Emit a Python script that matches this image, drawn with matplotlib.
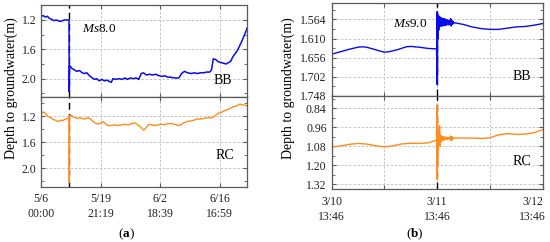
import matplotlib
matplotlib.use("Agg")
import matplotlib.pyplot as plt
from matplotlib.ticker import FixedLocator
from matplotlib.transforms import ScaledTranslation

plt.rcParams['font.family'] = ['Liberation Serif', 'DejaVu Serif']
plt.rcParams['mathtext.fontset'] = 'custom'
plt.rcParams['mathtext.rm'] = 'Liberation Serif'
plt.rcParams['mathtext.it'] = 'Liberation Serif:italic'
plt.rcParams['mathtext.bf'] = 'Liberation Serif:bold'

# --- panel (a): Ms8.0, days since 5/6 00:00 ---
a_quake = 6.6
a_bb_day = [0.0, 0.5, 1.0, 1.5, 2.0, 2.5, 3.0, 3.5, 4.0, 4.5, 5.0, 5.5, 6.0, 6.55,
            6.6, 6.65, 7.2, 7.8, 8.3, 9.0, 9.6, 10.2, 10.7, 11.3, 12.0, 12.5, 13.0,
            13.6, 14.2, 14.8, 15.4, 16.0, 16.4, 16.8, 17.5, 18.2, 19.0, 19.6, 20.2,
            20.8, 21.5, 22.2, 22.8, 23.4, 23.9, 24.6, 25.3, 26.0, 26.8, 27.5, 28.2,
            28.9, 29.6, 30.3, 31.0, 31.6, 32.2, 32.8, 33.5, 34.2, 35.0, 35.8, 36.5,
            37.2, 38.0, 38.7, 39.4, 39.8, 40.2, 40.8, 41.4, 42.0, 42.6, 43.2, 43.8,
            44.3, 44.8, 45.3, 45.8, 46.3, 46.8, 47.3, 47.8, 48.1]
a_bb_val = [1.15, 1.14, 1.16, 1.15, 1.18, 1.19, 1.21, 1.20, 1.21, 1.22, 1.21, 1.20, 1.20, 1.20,
            2.18, 1.82, 1.86, 1.88, 1.90, 1.89, 1.92, 1.93, 1.92, 1.96, 1.99, 2.01, 2.00,
            2.03, 2.01, 2.03, 2.02, 2.04, 2.05, 2.00, 2.01, 2.00, 2.01, 1.99, 2.01,
            1.99, 2.00, 1.99, 2.01, 1.93, 1.92, 1.95, 1.94, 1.95, 1.94, 1.96, 1.97,
            1.96, 1.98, 1.98, 1.99, 1.99, 1.99, 1.93, 1.90, 1.92, 1.93, 1.92, 1.93,
            1.92, 1.92, 1.91, 1.91, 1.88, 1.73, 1.74, 1.77, 1.78, 1.79, 1.80, 1.78,
            1.76, 1.70, 1.66, 1.62, 1.56, 1.50, 1.43, 1.36, 1.31]
a_rc_day = [0.0, 0.5, 1.0, 1.5, 2.0, 2.5, 2.9, 3.5, 4.0, 4.6, 5.2, 5.7, 6.2, 6.55,
            6.6, 6.65, 7.0, 7.5, 8.0, 8.5, 9.0, 9.6, 10.2, 10.8, 11.4, 12.0, 12.6,
            13.3, 13.9, 14.5, 15.0, 15.6, 16.4, 17.2, 18.0, 18.8, 19.6, 20.4, 21.2,
            22.0, 22.6, 23.2, 24.0, 24.6, 25.2, 25.9, 26.6, 27.3, 28.0, 28.8, 29.6,
            30.4, 31.2, 32.0, 32.6, 33.3, 34.0, 34.8, 35.6, 36.4, 37.2, 38.0, 38.8,
            39.6, 40.2, 40.8, 41.4, 42.0, 42.6, 43.3, 44.0, 44.8, 45.6, 46.4, 47.0,
            47.8, 48.1]
a_rc_val = [1.16, 1.13, 1.15, 1.19, 1.21, 1.23, 1.25, 1.26, 1.28, 1.26, 1.26, 1.24, 1.23, 1.24,
            2.22, 1.19, 1.18, 1.21, 1.22, 1.23, 1.22, 1.23, 1.24, 1.22, 1.23, 1.27, 1.30,
            1.32, 1.30, 1.28, 1.31, 1.34, 1.34, 1.33, 1.34, 1.33, 1.32, 1.33, 1.31,
            1.30, 1.33, 1.36, 1.41, 1.37, 1.32, 1.33, 1.34, 1.33, 1.32, 1.33, 1.31,
            1.31, 1.32, 1.34, 1.33, 1.30, 1.28, 1.27, 1.26, 1.24, 1.24, 1.23, 1.22,
            1.22, 1.21, 1.18, 1.15, 1.14, 1.12, 1.10, 1.08, 1.05, 1.04, 1.01, 1.02,
            1.03, 1.04]
a_xticks = [0.0, 13.888, 27.777, 41.708]
a_xlabels = ['5/6\n00:00', '5/19\n21:19', '6/2\n18:39', '6/16\n16:59']
a_bb_yticks = [1.2, 1.6, 2.0]
a_rc_yticks = [1.2, 1.6, 2.0]

# --- panel (b): Ms9.0, hours since 3/10 13:46 ---
b_quake = 24.0
b_bb_hr = [0, 2, 4, 6, 7, 8, 10, 12, 13, 15, 17, 18, 20, 22, 23.9,
           24.0, 24.05, 24.1, 24.15, 24.2, 24.3, 24.4, 24.5, 24.6, 24.7, 24.8, 24.9,
           25.0, 25.1, 25.2, 25.3, 25.4, 25.5, 25.6, 25.7, 25.8, 25.9, 26.0, 26.1,
           26.2, 26.3, 26.4, 26.5, 26.6, 26.7, 26.8, 26.9, 27.0, 27.1, 27.2, 27.3,
           27.4, 27.5, 27.6, 27.7, 27.8, 28.0, 30, 32, 34, 36, 38, 40, 42, 44, 46, 48]
b_bb_val = [1.648, 1.642, 1.636, 1.631, 1.630, 1.631, 1.637, 1.643, 1.642, 1.637, 1.630, 1.629, 1.631, 1.634, 1.635,
            1.720, 1.545, 1.700, 1.550, 1.610, 1.560, 1.590, 1.556, 1.582, 1.558, 1.580, 1.560,
            1.579, 1.561, 1.580, 1.562, 1.578, 1.563, 1.579, 1.562, 1.577, 1.564, 1.578, 1.564,
            1.577, 1.565, 1.576, 1.566, 1.577, 1.566, 1.575, 1.567, 1.576, 1.562, 1.580, 1.565,
            1.576, 1.568, 1.575, 1.569, 1.573, 1.572, 1.576, 1.582, 1.586, 1.588, 1.588, 1.585, 1.582, 1.581, 1.578, 1.574]
b_rc_hr = [0, 2, 4, 6, 8, 10, 12, 14, 16, 18, 20, 22, 23.5, 23.9,
           24.0, 24.05, 24.1, 24.15, 24.2, 24.3, 24.4, 24.6, 24.7, 24.8, 24.9,
           25.0, 25.1, 25.2, 25.3, 25.4, 25.5, 25.6, 25.7, 25.8, 25.9, 26.0, 26.1,
           26.2, 26.3, 26.4, 26.5, 26.6, 26.7, 26.8, 26.9, 27.0, 27.1, 27.2, 27.3,
           27.4, 27.5, 27.6, 27.8, 28.0, 30, 32, 34, 36, 38, 40, 42, 44, 46, 48]
b_rc_val = [1.085, 1.078, 1.068, 1.062, 1.066, 1.076, 1.083, 1.077, 1.065, 1.061, 1.062, 1.058, 1.045, 1.040,
            0.820, 1.290, 0.900, 1.200, 0.980, 1.100, 1.020, 0.950, 1.080, 1.010, 1.050,
            1.015, 1.045, 1.018, 1.042, 1.020, 1.040, 1.021, 1.038, 1.022, 1.037, 1.023, 1.036,
            1.024, 1.035, 1.024, 1.034, 1.025, 1.033, 1.026, 1.032, 1.026, 1.015, 1.045, 1.018,
            1.040, 1.022, 1.032, 1.028, 1.027, 1.028, 1.028, 1.030, 1.026, 1.008, 1.000, 1.005, 1.003, 0.995, 0.975]
b_xticks = [0, 12, 24, 36, 48]
b_xlabels = ['3/10\n13:46', '', '3/11\n13:46', '', '3/12\n13:46']
b_bb_yticks = [1.564, 1.610, 1.656, 1.702, 1.748]
b_rc_yticks = [0.84, 0.96, 1.08, 1.20, 1.32]
b_rc_ylabels = ['0.84', '0.96', '1.08', '1.20', '1.32']

BLUE = '#0a0aee'
ORANGE = '#ff8c1a'
W, H = 550.0, 242.0


def px_axes(fig, left, top, right, bottom):
    return fig.add_axes([left / W, 1 - bottom / H, (right - left) / W, (bottom - top) / H])


def style(ax, yticks, ylabels, minor):
    for s in ax.spines.values():
        s.set_color('#5a5a5a')
        s.set_linewidth(0.9)
    ax.set_yticks(yticks)
    ax.set_yticklabels(ylabels)
    ax.yaxis.set_minor_locator(FixedLocator(minor))
    ax.tick_params(which='both', direction='in', top=True, right=True,
                   colors='#5a5a5a', labelcolor='#222222', labelsize=8.5, pad=3.5)
    ax.tick_params(which='major', length=3)
    ax.tick_params(which='minor', length=2)
    ax.grid(True, which='major', color='#bdbdbd', linestyle=(0, (3, 2)), linewidth=0.6)
    ax.set_axisbelow(True)


fig = plt.figure(figsize=(5.5, 2.42), dpi=100)

# (a)
ax1 = px_axes(fig, 41, 5.3, 247.3, 97)
ax2 = px_axes(fig, 41, 97, 247.3, 186.5)
ax1.plot(a_bb_day, a_bb_val, color=BLUE, lw=1.1)
ax2.plot(a_rc_day, a_rc_val, color=ORANGE, lw=1.0)
ax1.set_ylim(2.25, 1.0)
ax2.set_ylim(2.28, 0.9)
style(ax1, a_bb_yticks, [f'{v:.1f}' for v in a_bb_yticks], [1.0, 1.4, 1.8, 2.2])
style(ax2, a_rc_yticks, [f'{v:.1f}' for v in a_rc_yticks], [1.0, 1.4, 1.8, 2.2])
for ax in (ax1, ax2):
    ax.set_xlim(0, 48.15)
    ax.set_xticks(a_xticks)
    ax.axvline(a_quake, color='black', lw=1.0, linestyle=(0, (5, 3)), zorder=1)
ax1.set_xticklabels([])
ax2.set_xticklabels(a_xlabels, linespacing=1.3)
ax2.tick_params(axis='x', pad=5)
ax1.text(0.28, 0.74, r'$Ms$8.0', transform=ax1.transAxes, ha='center', va='center', fontsize=9.5)
ax1.text(0.883, 0.175, 'BB', transform=ax1.transAxes, ha='center', va='center', fontsize=10)
ax2.text(0.893, 0.344, 'RC', transform=ax2.transAxes, ha='center', va='center', fontsize=10)
fig.text(11 / W, 1 - 88 / H, 'Depth to groundwater(m)', rotation=90, ha='center', va='center', fontsize=10)
fig.text(126 / W, 1 - 234 / H, r'($\mathbf{a}$)', ha='center', va='center', fontsize=9.5)

# (b)
ax3 = px_axes(fig, 331.5, 3.3, 542.5, 95.7)
ax4 = px_axes(fig, 331.5, 95.7, 542.5, 189.3)
ax3.plot(b_bb_hr, b_bb_val, color=BLUE, lw=1.0)
ax4.plot(b_rc_hr, b_rc_val, color=ORANGE, lw=1.0)
ax3.set_ylim(1.748, 1.525)
ax4.set_ylim(1.352, 0.76)
style(ax3, b_bb_yticks, [f'{v:.3f}' for v in b_bb_yticks], [1.541, 1.587, 1.633, 1.679, 1.725])
style(ax4, b_rc_yticks, b_rc_ylabels, [0.78, 0.90, 1.02, 1.14, 1.26])
for ax in (ax3, ax4):
    ax.set_xlim(0, 48)
    ax.set_xticks(b_xticks)
    ax.axvline(b_quake, color='black', lw=1.0, linestyle=(0, (5, 3)), zorder=1)
ax3.set_xticklabels([])
ax4.set_xticklabels(b_xlabels, linespacing=1.3)
ax4.tick_params(axis='x', pad=5)
# the last date label sits pulled in from the right edge, as in the original
last = ax4.get_xticklabels()[-1]
last.set_transform(last.get_transform() + ScaledTranslation(-0.10, 0, fig.dpi_scale_trans))
ax3.text(0.372, 0.773, r'$Ms$9.0', transform=ax3.transAxes, ha='center', va='center', fontsize=9.5)
ax3.text(0.901, 0.213, 'BB', transform=ax3.transAxes, ha='center', va='center', fontsize=10)
ax4.text(0.901, 0.302, 'RC', transform=ax4.transAxes, ha='center', va='center', fontsize=10)
fig.text(288.5 / W, 1 - 88 / H, 'Depth to groundwater(m)', rotation=90, ha='center', va='center', fontsize=10)
fig.text(415 / W, 1 - 234 / H, r'($\mathbf{b}$)', ha='center', va='center', fontsize=9.5)

fig.savefig('out.png', dpi=100)
